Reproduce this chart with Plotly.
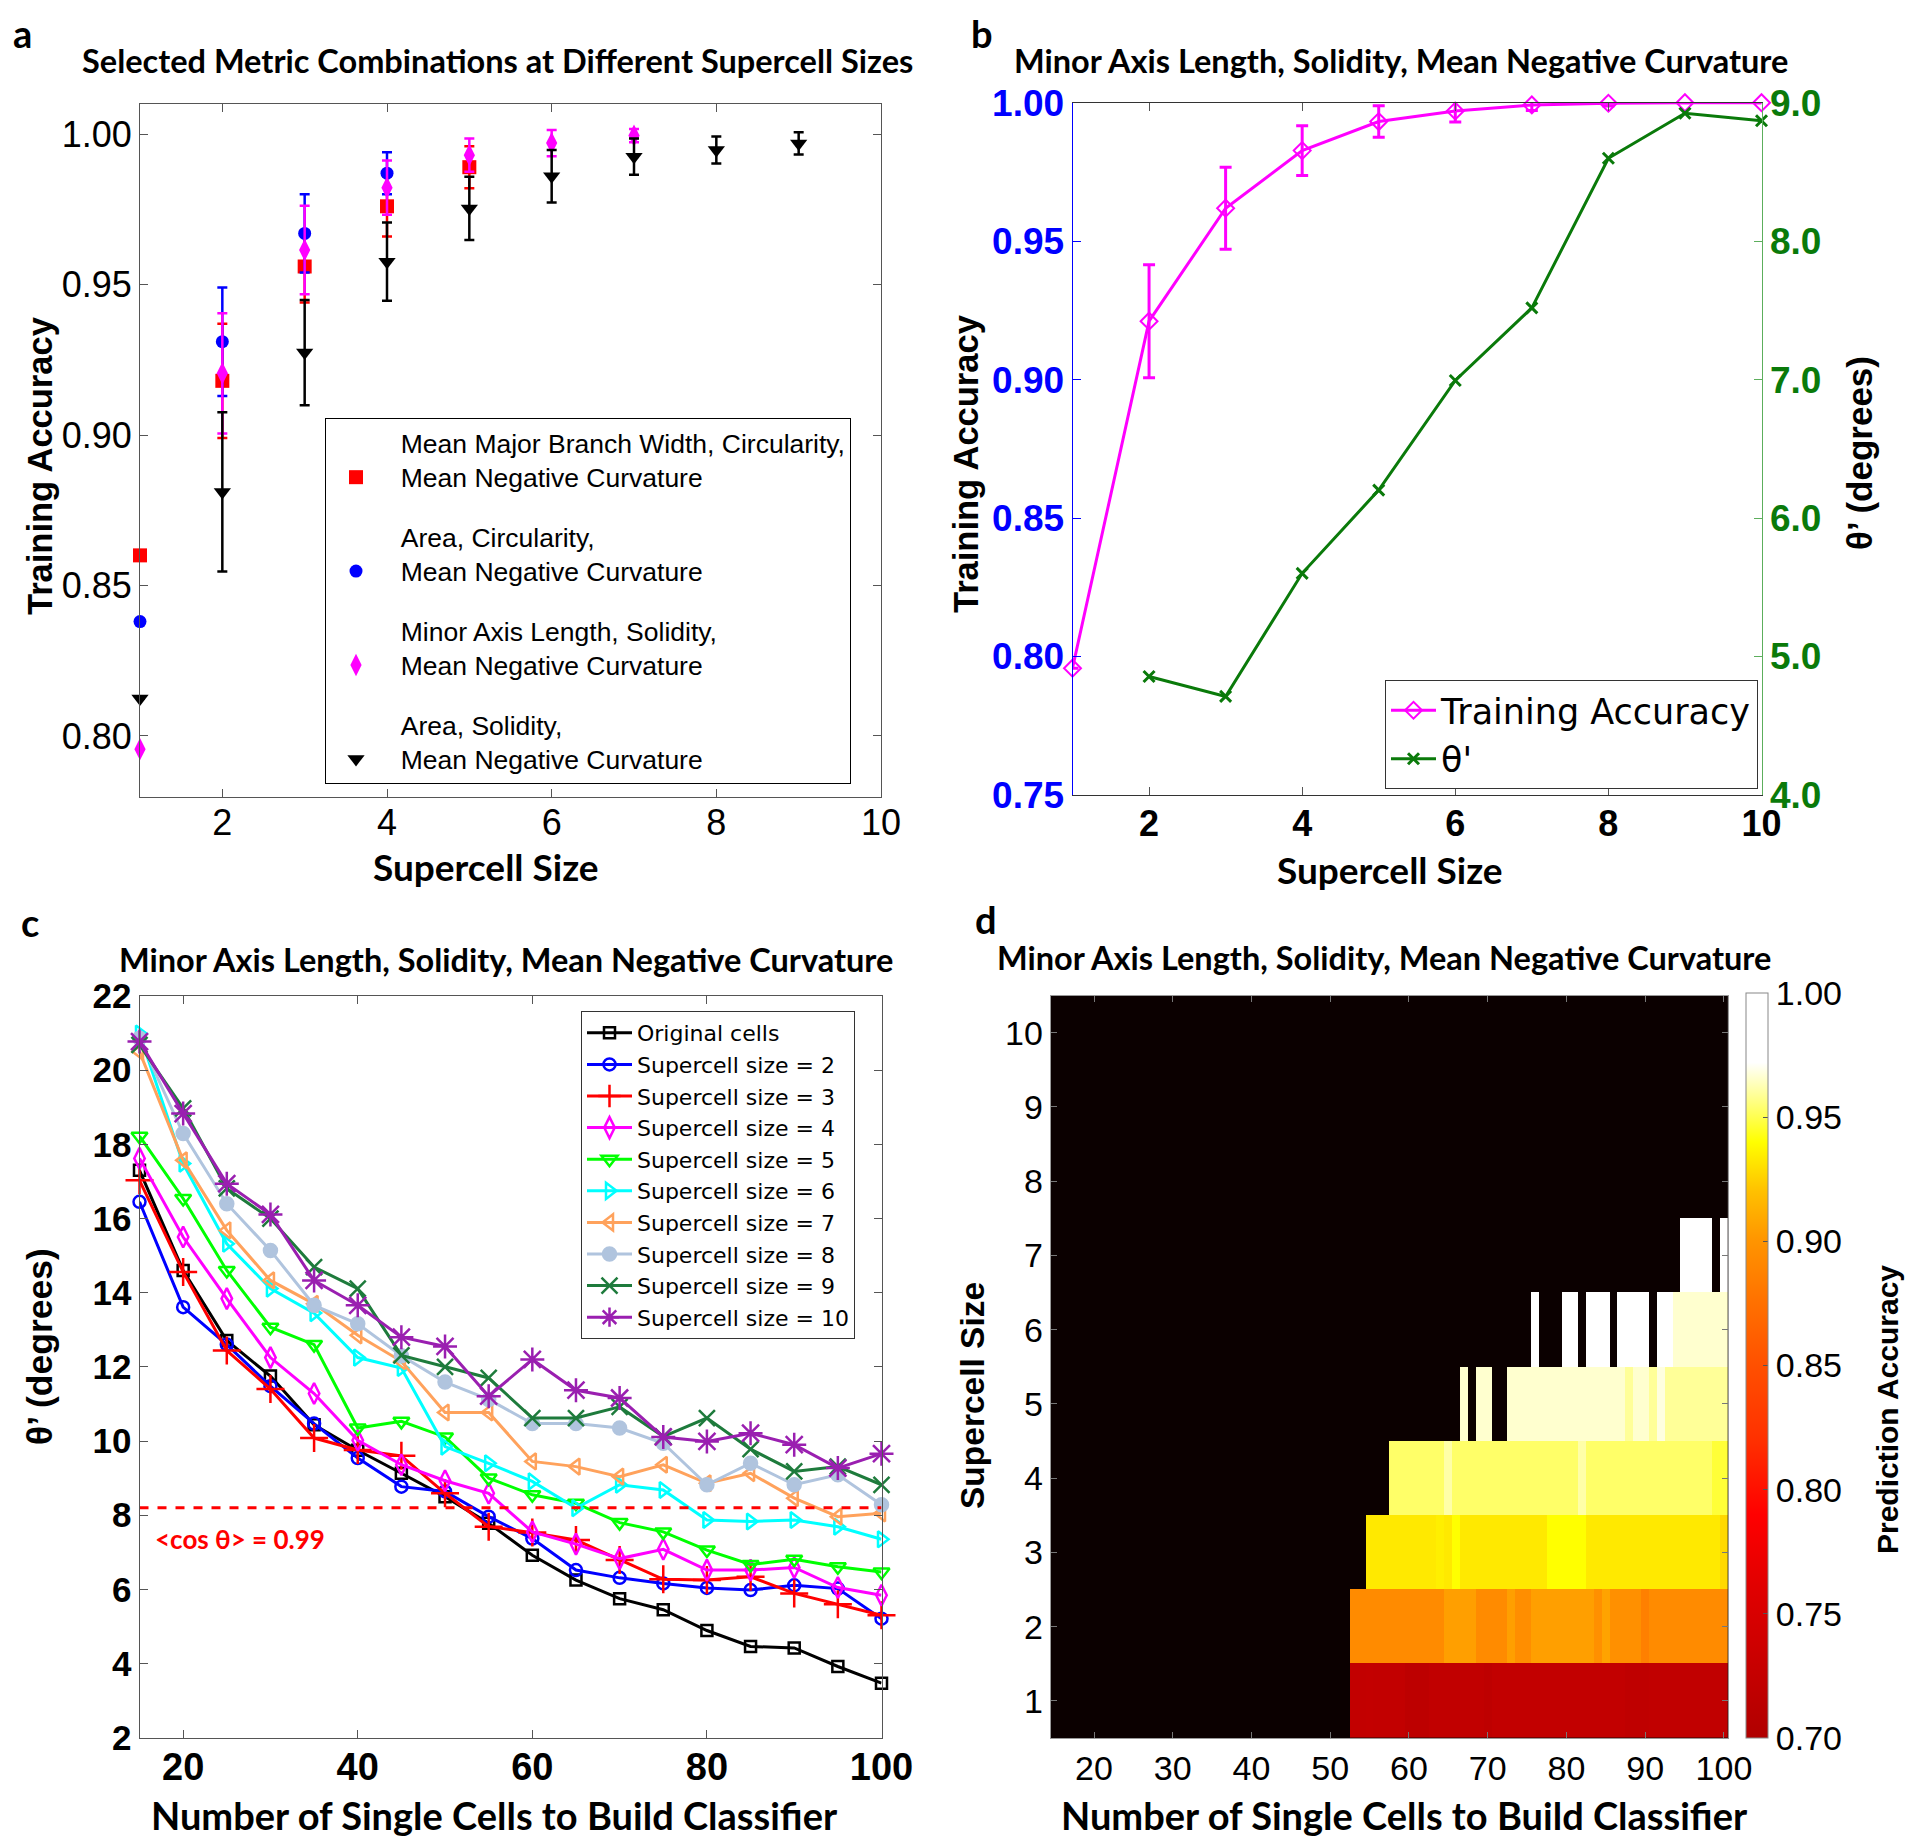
import plotly.graph_objects as go

W, H = 1918, 1843
OFF = 8  # the page adds a small body margin; pull the layout back by that much

ARIAL = "Liberation Sans, Arial, sans-serif"
WIDE = "DejaVu Sans, Liberation Sans, sans-serif"
CALIBRI = "Lato, Open Sans, sans-serif"

## panel a: training accuracy of selected metric combinations
sizes_a = [1, 2, 3, 4, 5, 6, 7, 8, 9]
acc_branch = [0.860, 0.918, 0.956, 0.976, 0.989]
err_branch = [0.0, 0.019, 0.012, 0.010, 0.007]
acc_area_circ = [0.838, 0.931, 0.967, 0.987]
err_area_circ = [0.0, 0.018, 0.013, 0.007]
acc_minor = [0.7956, 0.9205, 0.9615, 0.9822, 0.993, 0.997, 0.9995]
err_minor = [0.0, 0.020, 0.0147, 0.009, 0.0055, 0.0044, 0.0022]
acc_area_sol = [0.8124, 0.8811, 0.9274, 0.9576, 0.9753, 0.986, 0.9925, 0.9947, 0.9969]
err_area_sol = [0.0, 0.0265, 0.0175, 0.013, 0.0105, 0.0087, 0.006, 0.0045, 0.0037]

## panel b: accuracy and theta' vs supercell size
sizes_b = [1, 2, 3, 4, 5, 6, 7, 8, 9, 10]
acc_b = [0.7958, 0.9211, 0.9619, 0.9827, 0.9932, 0.997, 0.9992, 0.9998, 1.0, 1.0]
err_b = [0.0, 0.0204, 0.0148, 0.009, 0.0057, 0.004, 0.002, 0.001, 0.0, 0.0]
sizes_theta_b = [2, 3, 4, 5, 6, 7, 8, 9, 10]
theta_b = [4.856, 4.712, 5.601, 6.202, 6.994, 7.518, 8.599, 8.924, 8.870]

## panel c: theta' vs number of single cells
cells_c = [15, 20, 25, 30, 35, 40, 45, 50, 55, 60, 65, 70, 75, 80, 85, 90, 95, 100]
theta_orig = [17.3, 14.6, 12.71, 11.75, 10.44, 9.75, 9.13, 8.5, 7.78, 6.92, 6.25, 5.75, 5.45, 4.89, 4.46, 4.42, 3.92, 3.47]
theta_s2 = [16.45, 13.61, 12.6, 11.48, 10.47, 9.54, 8.77, 8.64, 7.96, 7.37, 6.52, 6.31, 6.16, 6.04, 5.98, 6.11, 6.02, 5.21]
theta_s3 = [17.03, 14.56, 12.44, 11.40, 10.08, 9.76, 9.60, 8.59, 7.69, 7.53, 7.33, 6.79, 6.27, 6.25, 6.34, 5.89, 5.60, 5.30]
theta_s4 = [17.62, 15.50, 13.84, 12.25, 11.28, 10.02, 9.36, 8.93, 8.59, 7.55, 7.22, 6.83, 7.08, 6.52, 6.52, 6.59, 6.05, 5.84]
theta_s5 = [18.22, 16.54, 14.60, 13.07, 12.60, 10.35, 10.53, 10.11, 9.0, 8.55, 8.32, 7.80, 7.55, 7.06, 6.67, 6.81, 6.61, 6.47]
theta_s6 = [20.99, 17.48, 15.32, 14.11, 13.45, 12.25, 11.97, 9.85, 9.40, 8.91, 8.19, 8.82, 8.68, 7.87, 7.83, 7.87, 7.69, 7.35]
theta_s7 = [20.5, 17.57, 15.68, 14.33, 13.70, 12.85, 12.15, 10.77, 10.77, 9.45, 9.31, 9.04, 9.36, 8.86, 9.13, 8.46, 7.96, 8.05]
theta_s8 = [20.86, 18.29, 16.40, 15.14, 13.66, 13.16, 12.3, 11.59, 11.12, 10.47, 10.47, 10.35, 9.94, 8.82, 9.40, 8.82, 9.09, 8.28]
theta_s9 = [20.68, 18.97, 16.81, 16.0, 14.69, 14.11, 12.31, 12.0, 11.70, 10.62, 10.62, 10.92, 10.12, 10.62, 9.78, 9.18, 9.31, 8.82]
theta_s10 = [20.77, 18.83, 16.94, 16.11, 14.33, 13.66, 12.80, 12.55, 11.21, 12.20, 11.37, 11.16, 10.11, 9.99, 10.21, 9.90, 9.27, 9.66]
cos_line = 8.2
cells_cos = [15, 100]

## panel d: prediction accuracy map, rows are (first n, last n, accuracy)
cells_d = list(range(15, 101))
sizes_d = list(range(1, 11))
acc_row1 = [(53, 54, 0.722), (55, 55, 0.724), (56, 59, 0.723), (60, 62, 0.716), (63, 69, 0.721),
            (70, 70, 0.718), (71, 87, 0.723), (88, 90, 0.719), (91, 100, 0.721)]
acc_row2 = [(53, 64, 0.894), (65, 68, 0.905), (69, 72, 0.894), (73, 73, 0.905), (74, 75, 0.896),
            (76, 83, 0.905), (84, 84, 0.897), (85, 85, 0.907), (86, 89, 0.897), (90, 90, 0.886),
            (91, 100, 0.894)]
acc_row3 = [(55, 63, 0.933), (64, 64, 0.935), (65, 65, 0.933), (66, 66, 0.940), (67, 77, 0.933),
            (78, 82, 0.940), (83, 99, 0.933), (100, 100, 0.928)]
acc_row4 = [(58, 64, 0.953), (65, 65, 0.961), (66, 81, 0.953), (82, 82, 0.961), (83, 98, 0.953),
            (99, 100, 0.947)]
acc_row5 = [(67, 67, 0.966), (69, 70, 0.966), (73, 87, 0.966), (88, 88, 0.959), (89, 90, 0.966),
            (91, 91, 0.959), (92, 92, 0.968), (93, 100, 0.959)]
acc_row6 = [(76, 76, 1.0), (80, 81, 1.0), (83, 85, 1.0), (87, 90, 1.0), (92, 93, 1.0), (94, 100, 0.966)]
acc_row7 = [(95, 98, 1.0), (100, 100, 1.0)]
rows_d = {1: acc_row1, 2: acc_row2, 3: acc_row3, 4: acc_row4, 5: acc_row5, 6: acc_row6, 7: acc_row7}

z_d = [[None] * len(cells_d) for _ in sizes_d]
for size, segs in rows_d.items():
    for n0, n1, acc in segs:
        for n in range(n0, n1 + 1):
            z_d[size - 1][n - cells_d[0]] = acc


def fx(p):
    return (p - OFF) / W


def fy(p):
    return 1 - (p - OFF) / H


fig = go.Figure()

## ---- panel a
SP = "&nbsp;&nbsp;"
a_series = [
    ("Mean Major Branch Width, Circularity,", acc_branch, err_branch, "#FF0000", "square", 14),
    ("Area, Circularity,", acc_area_circ, err_area_circ, "#0000FF", "circle", 13),
    ("Minor Axis Length, Solidity,", acc_minor, err_minor, "#FF00FF", "diamond-tall", 16),
    ("Area, Solidity,", acc_area_sol, err_area_sol, "#000000", "triangle-down", 15),
]
for i, (name, acc, err, col, sym, sz) in enumerate(a_series):
    fig.add_trace(go.Scatter(
        x=sizes_a[:len(acc)], y=acc, mode="markers",
        name=SP + name + "<br>" + SP + "Mean Negative Curvature",
        marker=dict(color=col, symbol=sym, size=sz),
        error_y=dict(type="data", array=err, color=col, thickness=2.5, width=5),
        cliponaxis=False, legendgroup="a%d" % i, legend="legend",
        xaxis="x", yaxis="y"))

## ---- panel b
fig.add_trace(go.Scatter(
    x=sizes_b, y=acc_b, mode="lines+markers", name="Training Accuracy",
    line=dict(color="#FF00FF", width=3),
    marker=dict(symbol="diamond-open", size=13, color="#FF00FF", line=dict(width=2)),
    error_y=dict(type="data", array=err_b, color="#FF00FF", thickness=3, width=6),
    cliponaxis=False, legend="legend2", xaxis="x2", yaxis="y2"))
fig.add_trace(go.Scatter(
    x=sizes_theta_b, y=theta_b, mode="lines+markers", name="θ'",
    line=dict(color="#0A7A0A", width=3),
    marker=dict(symbol="x-thin", size=11, color="#0A7A0A", line=dict(width=3, color="#0A7A0A")),
    cliponaxis=False, legend="legend2", xaxis="x2", yaxis="y5"))

## ---- panel c
c_series = [
    ("Original cells", theta_orig, "#000000", "square-open", 11),
    ("Supercell size = 2", theta_s2, "#0000FF", "circle-open", 12),
    ("Supercell size = 3", theta_s3, "#FF0000", "cross-thin-open", 20),
    ("Supercell size = 4", theta_s4, "#FF00FF", "diamond-tall-open", 15),
    ("Supercell size = 5", theta_s5, "#00FF00", "triangle-down-open", 14),
    ("Supercell size = 6", theta_s6, "#00FFFF", "triangle-right-open", 14),
    ("Supercell size = 7", theta_s7, "#FFA25C", "triangle-left-open", 14),
    ("Supercell size = 8", theta_s8, "#B0C4DE", "circle", 13),
    ("Supercell size = 9", theta_s9, "#1E7B3C", "x-thin-open", 16),
    ("Supercell size = 10", theta_s10, "#9A1FB0", "asterisk-open", 20),
]
for name, vals, col, sym, sz in c_series:
    fig.add_trace(go.Scatter(
        x=cells_c, y=vals, mode="lines+markers", name=name,
        line=dict(color=col, width=3),
        marker=dict(symbol=sym, size=sz, color=col, line=dict(width=2.5, color=col)),
        cliponaxis=False, legend="legend3", xaxis="x3", yaxis="y3"))
fig.add_trace(go.Scatter(
    x=cells_cos, y=[cos_line] * len(cells_cos), mode="lines", showlegend=False,
    line=dict(color="#FF0000", width=3, dash="dash"), xaxis="x3", yaxis="y3"))

## ---- panel d
hot_scale = [
    [0.0, "#B00000"], [0.1, "#C80000"], [0.2, "#E00000"], [0.3, "#FF0000"],
    [0.4, "#FF3000"], [0.5, "#FF5000"], [0.5833, "#FF7000"], [0.6667, "#FF9400"],
    [0.7333, "#FFC000"], [0.8, "#FFFF00"], [0.8667, "#FFFFA0"], [0.9067, "#FFFFFF"],
    [1.0, "#FFFFFF"]]
fig.add_trace(go.Heatmap(
    x=cells_d, y=sizes_d, z=z_d, zmin=0.70, zmax=1.00, colorscale=hot_scale,
    hoverongaps=False, xaxis="x4", yaxis="y4",
    colorbar=dict(
        x=fx(1745.5), xanchor="left", y=fy(993), yanchor="top",
        len=(1738 - 993) / H, lenmode="fraction", thickness=22, thicknessmode="pixels",
        outlinewidth=1, outlinecolor="#888888", xpad=0, ypad=0,
        tickvals=[0.70, 0.75, 0.80, 0.85, 0.90, 0.95, 1.00], tickformat=".2f",
        ticks="inside", ticklen=5, tickcolor="#555555",
        tickfont=dict(family=ARIAL, size=34, color="black"))))

axis_common = dict(showline=True, linecolor="#555555", linewidth=1, ticks="inside",
                   ticklen=8, tickcolor="#555555", showgrid=False, zeroline=False,
                   automargin=False)

fig.update_layout(
    width=W, height=H, autosize=False,
    margin=dict(l=0, r=0, t=0, b=0, pad=0, autoexpand=False),
    paper_bgcolor="white", plot_bgcolor="white",
    font=dict(family=ARIAL, color="black"),
    xaxis=dict(axis_common, domain=[fx(140), fx(881)], range=[1, 10], anchor="y",
               tickvals=[2, 4, 6, 8, 10], mirror="ticks", ticklabelstandoff=-6,
               tickfont=dict(family=ARIAL, size=36)),
    yaxis=dict(axis_common, domain=[fy(797), fy(104)], range=[0.7797, 1.0100], anchor="x",
               tickvals=[0.80, 0.85, 0.90, 0.95, 1.00], tickformat=".2f", mirror="ticks",
               tickfont=dict(family=ARIAL, size=36)),
    xaxis2=dict(axis_common, domain=[fx(1072.5), fx(1761.5)], range=[1, 10], anchor="y2",
                tickvals=[2, 4, 6, 8, 10], mirror="ticks", linecolor="#333333",
                ticklabelstandoff=-3,
                tickfont=dict(family=ARIAL, size=36, weight="bold")),
    yaxis2=dict(axis_common, domain=[fy(795), fy(102.7)], range=[0.75, 1.0], anchor="x2",
                tickvals=[0.75, 0.80, 0.85, 0.90, 0.95, 1.00], tickformat=".2f",
                linecolor="#0000FF", tickcolor="#0000FF",
                tickfont=dict(family=ARIAL, size=37, color="#0000FF", weight="bold")),
    yaxis5=dict(axis_common, range=[4, 9], anchor="x2", overlaying="y2", side="right",
                tickvals=[4, 5, 6, 7, 8, 9], tickformat=".1f",
                linecolor="#5CAE5C", tickcolor="#5CAE5C",
                tickfont=dict(family=ARIAL, size=37, color="#0A7A0A", weight="bold")),
    xaxis3=dict(axis_common, domain=[fx(139.5), fx(881.5)], range=[15, 100], anchor="y3",
                tickvals=[20, 40, 60, 80, 100], mirror="ticks", ticklabelstandoff=-4,
                tickfont=dict(family=ARIAL, size=38, weight="bold")),
    yaxis3=dict(axis_common, domain=[fy(1737.7), fy(996)], range=[2, 22], anchor="x3",
                tickvals=list(range(2, 23, 2)), mirror="ticks",
                tickfont=dict(family=ARIAL, size=35, weight="bold")),
    xaxis4=dict(axis_common, domain=[fx(1050.7), fx(1727.9)], range=[14.5, 100.5], anchor="y4",
                tickvals=list(range(20, 101, 10)), mirror="ticks", ticklen=6,
                linecolor="#999999", tickcolor="#777777",
                tickfont=dict(family=ARIAL, size=34)),
    yaxis4=dict(axis_common, domain=[fy(1738), fy(995.6)], range=[0.5, 10.5], anchor="x4",
                tickvals=sizes_d, mirror="ticks", ticklen=6,
                linecolor="#999999", tickcolor="#777777",
                tickfont=dict(family=ARIAL, size=34)),
    legend=dict(x=fx(325), y=fy(418), xanchor="left", yanchor="top",
                bordercolor="black", borderwidth=1, bgcolor="white",
                font=dict(family=ARIAL, size=26.5), traceorder="grouped",
                tracegroupgap=22, valign="bottom", itemwidth=50),
    legend2=dict(x=fx(1758), y=fy(789), xanchor="right", yanchor="bottom",
                 bordercolor="#333333", borderwidth=1, bgcolor="white",
                 font=dict(family=WIDE, size=35), itemwidth=45),
    legend3=dict(x=fx(581), y=fy(1011), xanchor="left", yanchor="top",
                 bordercolor="#333333", borderwidth=1, bgcolor="white",
                 font=dict(family=WIDE, size=22), itemwidth=45),
)

## black background behind the empty cells of the map
fig.add_shape(type="rect", xref="x4 domain", yref="y4 domain", x0=0, x1=1, y0=0, y1=1,
              fillcolor="#0B0000", line=dict(width=0), layer="below")

notes = [
    # panel letters
    ("<b>a</b>", 22, 33, CALIBRI, 38, 0),
    ("<b>b</b>", 982, 33, CALIBRI, 38, 0),
    ("<b>c</b>", 30, 922, CALIBRI, 38, 0),
    ("<b>d</b>", 986, 919, CALIBRI, 38, 0),
    # titles
    ("<b>Selected Metric Combinations at Different Supercell Sizes</b>", 497, 60, CALIBRI, 32.5, 0),
    ("<b>Minor Axis Length, Solidity, Mean Negative Curvature</b>", 1401, 60, CALIBRI, 32.5, 0),
    ("<b>Minor Axis Length, Solidity, Mean Negative Curvature</b>", 506, 960, CALIBRI, 32.5, 0),
    ("<b>Minor Axis Length, Solidity, Mean Negative Curvature</b>", 1384, 958, CALIBRI, 32.5, 0),
    # axis titles
    ("<b>Training Accuracy</b>", 40, 466, ARIAL, 34.5, -90),
    ("<b>Supercell Size</b>", 486, 866, CALIBRI, 37, 0),
    ("<b>Training Accuracy</b>", 966, 464, ARIAL, 34.5, -90),
    ("<b>θ’ (degrees)</b>", 1859, 453, ARIAL, 35, -90),
    ("<b>Supercell Size</b>", 1390, 869, CALIBRI, 37, 0),
    ("<b>θ’ (degrees)</b>", 40, 1347, ARIAL, 35.5, -90),
    ("<b>Number of Single Cells to Build Classifier</b>", 494, 1815, CALIBRI, 38, 0),
    ("<b>Supercell Size</b>", 972, 1396, ARIAL, 33.5, -90),
    ("<b>Number of Single Cells to Build Classifier</b>", 1404, 1815, CALIBRI, 38, 0),
    ("<b>Prediction Accuracy</b>", 1887, 1410, ARIAL, 30, -90),
]
for text, x, y, fam, size, ang in notes:
    fig.add_annotation(text=text, x=fx(x), y=fy(y), xref="paper", yref="paper",
                       showarrow=False, textangle=ang, xanchor="center", yanchor="middle",
                       font=dict(family=fam, size=size, color="black"))

fig.add_annotation(text="<b>&lt;cos θ&gt; = 0.99</b>", x=16.5, y=7.35, xref="x3", yref="y3",
                   xanchor="left", yanchor="middle", showarrow=False,
                   font=dict(family=CALIBRI, size=26, color="#FF0000"))

fig.write_html("out.html")
